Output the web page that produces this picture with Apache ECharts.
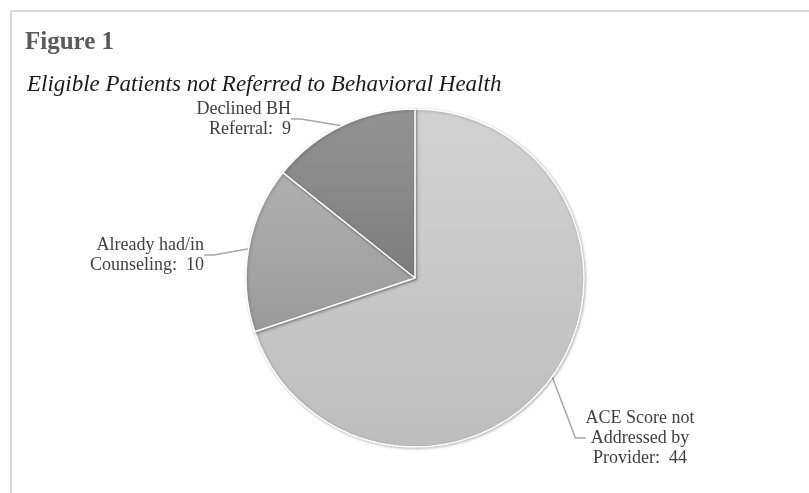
<!DOCTYPE HTML>
<html>
<head>
<meta http-equiv="Content-type" content="text/html; charset=UTF-8" />
<script type="text/javascript" src="https://cdn.jsdelivr.net/npm/echarts@6/dist/echarts.min.js"></script>
<style>
  html, body { margin: 0; padding: 0; background: #fff; }
  #chart { width: 809px; height: 493px; }
</style>
</head>
<body>
<div id="chart"></div>
<script type="text/javascript">
// data
var categories = ['ACE Score not\nAddressed by\nProvider', 'Already had/in\nCounseling', 'Declined BH\nReferral'];
var counts = [44, 10, 9];
var sliceTop = ['#d2d2d2', '#b0b0b0', '#939393'];
var sliceBottom = ['#bdbdbd', '#9a9a9a', '#7d7d7d'];

// where each label sits (Excel-style placement)
var labelSpots = [
  { x: 640, y: 438, align: 'center' },
  { x: 204, y: 255, align: 'right' },
  { x: 291, y: 119, align: 'right' }
];

var pieData = categories.map(function (name, i) {
  return {
    name: name,
    value: counts[i],
    itemStyle: {
      color: new echarts.graphic.LinearGradient(0, 0, 0, 1, [
        { offset: 0, color: sliceTop[i] },
        { offset: 1, color: sliceBottom[i] }
      ])
    },
    label: { align: labelSpots[i].align }
  };
});

var chart = echarts.init(document.getElementById('chart'));
chart.setOption({
  animation: false,
  backgroundColor: '#fff',
  graphic: [
    { type: 'rect', shape: { x: 11, y: 11, width: 820, height: 500 }, style: { fill: 'none', stroke: '#d9d9d9', lineWidth: 2 } },
    { type: 'text', left: 25, top: 30, style: { text: 'Figure 1', font: 'bold 25px "Liberation Serif", serif', fill: '#595959' } },
    { type: 'text', left: 27, top: 73, style: { text: 'Eligible Patients not Referred to Behavioral Health', font: 'italic 23px "Liberation Serif", serif', fill: '#1a1a1a' } }
  ],
  series: [{
    type: 'pie',
    center: [415, 278],
    radius: 169,
    startAngle: 90,
    clockwise: true,
    data: pieData,
    itemStyle: {
      borderColor: '#fff',
      borderWidth: 1.5,
      shadowBlur: 3,
      shadowOffsetX: 1,
      shadowOffsetY: 1,
      shadowColor: 'rgba(0,0,0,0.25)'
    },
    label: {
      show: true,
      position: 'outside',
      formatter: function (p) { return p.name + ':  ' + p.value; },
      fontFamily: '"Liberation Serif", serif',
      fontSize: 18,
      lineHeight: 20,
      color: '#404040'
    },
    labelLine: {
      show: true,
      length: 10,
      length2: 10,
      lineStyle: { color: '#a6a6a6', width: 1.5 }
    },
    labelLayout: function (params) {
      var s = labelSpots[params.dataIndex];
      return { x: s.x, y: s.y, align: s.align, verticalAlign: 'middle', moveOverlap: false };
    },
    emphasis: { disabled: true }
  }]
});
</script>
</body>
</html>
